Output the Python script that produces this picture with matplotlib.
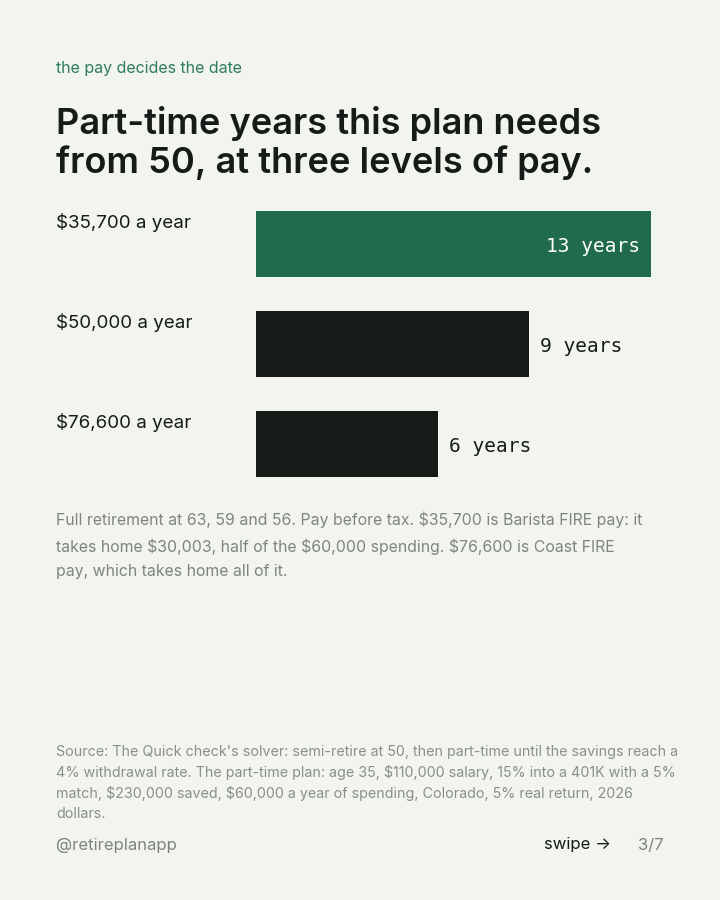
import matplotlib.pyplot as plt

plt.rcParams['font.family'] = ['Inter', 'DejaVu Sans']

# data
pay_labels = ["$35,700 a year", "$50,000 a year", "$76,600 a year"]
years = [13, 9, 6]
bar_colors = ["#1f6b4c", "#161b18", "#161b18"]

BG = "#f2f4ef"
W, H = 720, 900

fig = plt.figure(figsize=(7.2, 9), dpi=100, facecolor=BG)


def px(x, y):
    # pixel coords (top-left origin) -> figure fraction
    return x / W, 1 - y / H


def esc(s):
    return s.replace("$", r"\$")


# header
fig.text(*px(56, 68), "the pay decides the date", color="#2e7d5b",
         fontsize=11.5, va="center")
fig.text(*px(56, 143), "Part-time years this plan needs\nfrom 50, at three levels of pay.",
         color="#161b18", fontsize=26, fontweight="semibold", va="center",
         linespacing=1.16)

# bar chart
ax = fig.add_axes([256 / W, 1 - 477 / H, 395 / W, 266 / H])
ax.set_facecolor(BG)
ypos = list(range(len(years)))
ax.barh(ypos, years, height=0.66, color=bar_colors)
ax.set_xlim(0, 13)
ax.set_ylim(2.33, -0.33)
ax.axis("off")

for i, (v, lab) in enumerate(zip(years, pay_labels)):
    if v == max(years):
        ax.text(v - 0.35, i + 0.02, f"{v} years", ha="right", va="center",
                color="white", fontsize=14, family="DejaVu Sans Mono")
    else:
        ax.text(v + 0.35, i + 0.02, f"{v} years", ha="left", va="center",
                color="#161b18", fontsize=14, family="DejaVu Sans Mono")
    fig.text(*px(56, 223 + 100 * i), esc(lab), color="#161b18",
             fontsize=13.5, va="center")

# notes
fig.text(*px(56, 511), esc("Full retirement at 63, 59 and 56. Pay before tax. $35,700 is Barista FIRE pay: it\n"
         "takes home $30,003, half of the $60,000 spending. $76,600 is Coast FIRE\n"
         "pay, which takes home all of it."),
         color="#7f847f", fontsize=11.4, va="top", linespacing=1.78)

fig.text(*px(56, 745), esc("Source: The Quick check's solver: semi-retire at 50, then part-time until the savings reach a\n"
         "4% withdrawal rate. The part-time plan: age 35, $110,000 salary, 15% into a 401K with a 5%\n"
         "match, $230,000 saved, $60,000 a year of spending, Colorado, 5% real return, 2026\n"
         "dollars."),
         color="#8a8f8a", fontsize=10.3, va="top", linespacing=1.52)

# footer
fig.text(*px(56, 845), "@retireplanapp", color="#7f847f", fontsize=12, va="center")
fig.text(*px(611, 845), "swipe \u2192", color="#161b18", fontsize=12, va="center", ha="right")
fig.text(*px(664, 845), "3/7", color="#7f847f", fontsize=12, va="center", ha="right")

fig.savefig("out.png", dpi=100, facecolor=BG)
